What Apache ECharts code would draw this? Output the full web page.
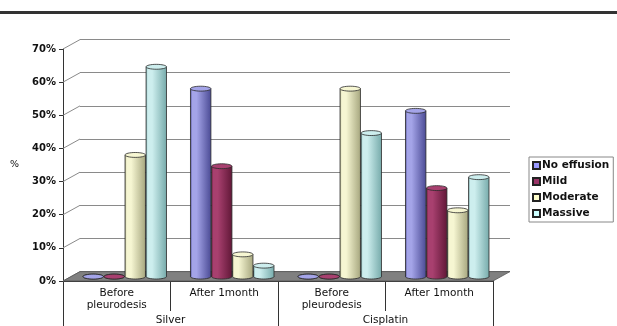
<!DOCTYPE html>
<html>
<head>
<meta charset="utf-8">
<script src="https://cdn.jsdelivr.net/npm/echarts@6/dist/echarts.min.js"></script>
<style>
  html, body { margin: 0; padding: 0; background: #fff; }
  #chart { width: 617px; height: 326px; }
</style>
</head>
<body>
<div id="chart"></div>
<script>
// Pleural effusion grade by treatment and time point (%)
const stages = ['Before\npleurodesis', 'After 1month', 'Before\npleurodesis', 'After 1month'];
const treatments = ['Silver', 'Cisplatin'];
const seriesNames = ['No effusion', 'Mild', 'Moderate', 'Massive'];
const noEffusion = [0, 56.7, 0, 50];
const mild = [0, 33.3, 0, 26.7];
const moderate = [36.7, 6.7, 56.7, 20];
const massive = [63.3, 3.3, 43.3, 30];
const yTicks = [0, 10, 20, 30, 40, 50, 60, 70];

const values = [noEffusion, mild, moderate, massive];
// [legend colour, highlight, shadow] per grade
const palette = [
  ['#9999ff', '#a4a4e8', '#4c4c96'],
  ['#993366', '#a8406f', '#621838'],
  ['#ffffcc', '#f6f6d2', '#a8a880'],
  ['#ccffff', '#cdeeee', '#78acac']
];

// Front plane of the plot (pixels from the chart edges)
const FRONT = { left: 63, right: 124, top: 49, bottom: 45 };
// Depth offset of the back wall relative to the front plane
const DEPTH_X = 17, DEPTH_Y = 9.4;
// Cylinders stand roughly halfway into the depth
const BAR_DEPTH = 0.47;
const BAR_FRAC = 0.19;    // cylinder width as a share of the category band
const BAR_GAP = 0.6;

function shifted(f) {
  return {
    left: FRONT.left + DEPTH_X * f,
    right: FRONT.right - DEPTH_X * f,
    top: FRONT.top - DEPTH_Y * f,
    bottom: FRONT.bottom + DEPTH_Y * f
  };
}

const fontFamily = '"DejaVu Sans", "Liberation Sans", Arial, sans-serif';

function cylinder(k) {
  const [base, light, dark] = palette[k];
  const bodyFill = {
    type: 'linear', x: 0, y: 0, x2: 1, y2: 0,
    colorStops: [
      { offset: 0, color: dark },
      { offset: 0.08, color: light },
      { offset: 0.3, color: light },
      { offset: 1, color: dark }
    ]
  };
  return function (params, api) {
    const cat = api.value(0);
    const v = api.value(1);
    const band = api.size([1, 0])[0];
    const w = band * BAR_FRAC;
    const p0 = api.coord([cat, 0]);
    const p1 = api.coord([cat, v]);
    const cx = p0[0] + (k - 1.5) * (w + BAR_GAP);
    const rx = w / 2;
    const ry = w * 0.12;
    const y0 = p0[1], y1 = p1[1];
    const stroke = '#2a2a2a';
    return {
      type: 'group',
      children: [
        { type: 'ellipse', shape: { cx: cx, cy: y0, rx: rx, ry: ry },
          style: { fill: bodyFill, stroke: stroke, lineWidth: 0.8 } },
        { type: 'rect', shape: { x: cx - rx, y: y1, width: w, height: y0 - y1 },
          style: { fill: bodyFill } },
        { type: 'line', shape: { x1: cx - rx, y1: y1, x2: cx - rx, y2: y0 },
          style: { stroke: stroke, lineWidth: 0.8 } },
        { type: 'line', shape: { x1: cx + rx, y1: y1, x2: cx + rx, y2: y0 },
          style: { stroke: stroke, lineWidth: 0.8 } },
        { type: 'ellipse', shape: { cx: cx, cy: y1, rx: rx, ry: ry },
          style: { fill: light, stroke: stroke, lineWidth: 0.8 } }
      ]
    };
  };
}

const chart = echarts.init(document.getElementById('chart'), null, { renderer: 'canvas' });

const barGrid = shifted(BAR_DEPTH);
const backGrid = shifted(1);

const option = {
  animation: false,
  backgroundColor: '#ffffff',
  textStyle: { fontFamily: fontFamily },
  graphic: [
    { type: 'rect', left: 0, top: 11, shape: { width: 617, height: 3 },
      style: { fill: '#333333' }, silent: true }
  ],
  grid: [
    Object.assign({ containLabel: false }, FRONT),
    Object.assign({ containLabel: false }, barGrid),
    Object.assign({ containLabel: false }, backGrid),
    Object.assign({ containLabel: false }, FRONT)
  ],
  legend: {
    orient: 'vertical',
    left: 529,
    top: 157,
    data: seriesNames,
    icon: 'rect',
    itemWidth: 7,
    itemHeight: 7,
    itemGap: 5,
    padding: [3, 4, 3, 3],
    borderColor: '#888888',
    borderWidth: 1,
    textStyle: { fontSize: 10.5, fontWeight: 'bold', color: '#111', fontFamily: fontFamily, padding: [0, 0, 0, -3] }
  },
  xAxis: [
    {
      gridIndex: 0, type: 'category', data: stages,
      axisLine: { show: true, lineStyle: { color: '#333', width: 1 } },
      axisTick: { show: true, interval: 0, length: 30, lineStyle: { color: '#333' } },
      axisLabel: { interval: 0, margin: 6, fontSize: 10.5, lineHeight: 12, color: '#111' },
      splitLine: { show: false }
    },
    { gridIndex: 1, type: 'category', data: stages, show: false },
    { gridIndex: 2, type: 'category', data: stages, show: false },
    {
      gridIndex: 3, type: 'category', data: treatments,
      axisLine: { show: false },
      axisTick: { show: true, interval: 0, length: 50, lineStyle: { color: '#333' } },
      axisLabel: { interval: 0, margin: 39, fontSize: 10.5, color: '#111' },
      splitLine: { show: false }
    }
  ],
  yAxis: [
    {
      gridIndex: 0, type: 'value', min: 0, max: 70, interval: 10,
      name: '%', nameLocation: 'middle', nameGap: 44, nameRotate: 0,
      nameTextStyle: { fontSize: 9.5, color: '#111' },
      axisLine: { show: true, lineStyle: { color: '#333' } },
      axisTick: { show: true, length: 4, lineStyle: { color: '#333' } },
      axisLabel: { formatter: '{value}%', fontSize: 10, fontWeight: 'bold', color: '#111', margin: 7 },
      splitLine: { show: false }
    },
    { gridIndex: 1, type: 'value', min: 0, max: 70, show: false, splitLine: { show: false } },
    {
      gridIndex: 2, type: 'value', min: 0, max: 70, interval: 10,
      axisLine: { show: false }, axisTick: { show: false }, axisLabel: { show: false },
      splitLine: { show: true, lineStyle: { color: '#8a8a8a', width: 1 } }
    },
    { gridIndex: 3, type: 'value', min: 0, max: 70, show: false, splitLine: { show: false } }
  ],
  series: [
    // Slanted links from each front tick to the back-wall gridline
    {
      type: 'custom', xAxisIndex: 0, yAxisIndex: 0, z: 1, silent: true,
      data: yTicks.map(function (t) { return [0, t]; }),
      renderItem: function (params, api) {
        const x = params.coordSys.x;
        const y = api.coord([0, api.value(1)])[1];
        return { type: 'line', shape: { x1: x, y1: y, x2: x + DEPTH_X, y2: y - DEPTH_Y },
                 style: { stroke: '#8a8a8a', lineWidth: 1 } };
      }
    },
    // Floor of the plot
    {
      type: 'custom', xAxisIndex: 0, yAxisIndex: 0, z: 2, silent: true,
      data: [[0, 0]],
      renderItem: function (params, api) {
        const cs = params.coordSys;
        const y = api.coord([0, 0])[1];
        return {
          type: 'polygon',
          shape: { points: [[cs.x, y], [cs.x + cs.width, y],
                            [cs.x + cs.width + DEPTH_X, y - DEPTH_Y], [cs.x + DEPTH_X, y - DEPTH_Y]] },
          style: { fill: '#808080', stroke: '#555555', lineWidth: 0.8 }
        };
      }
    }
  ].concat(seriesNames.map(function (name, k) {
    return {
      name: name,
      type: 'custom',
      xAxisIndex: 1, yAxisIndex: 1,
      z: 3,
      itemStyle: { color: palette[k][0], borderColor: '#222', borderWidth: 1 },
      data: values[k].map(function (v, i) { return [i, v]; }),
      renderItem: cylinder(k)
    };
  }))
};

chart.setOption(option);
</script>
</body>
</html>
